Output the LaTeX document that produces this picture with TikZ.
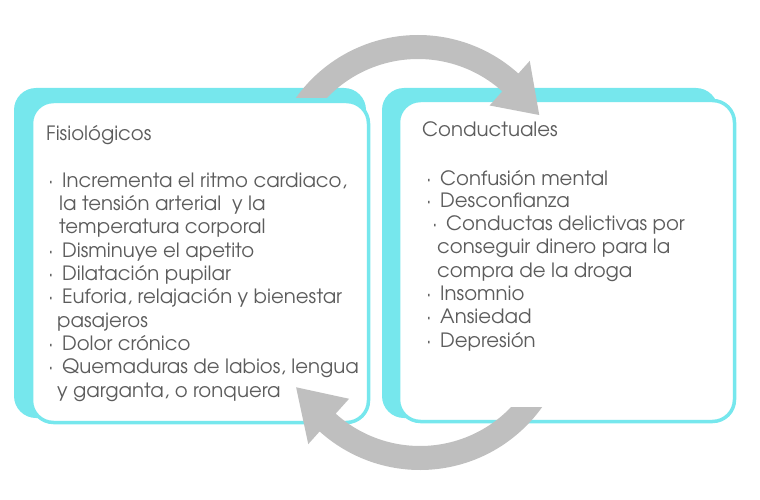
\documentclass[tikz,border=0pt]{standalone}
\usepackage{fontspec}
\setmainfont{texgyreadventor-regular.otf}
\usetikzlibrary{calc}
\definecolor{cyanb}{RGB}{118,231,237}
\definecolor{arrowgray}{RGB}{191,191,191}
\definecolor{txtgray}{RGB}{92,92,92}
\tikzset{
  backbox/.style={fill=cyanb, draw=none, rounded corners=22pt},
  frontbox/.style={fill=white, draw=cyanb, line width=3.5pt, rounded corners=22pt},
  cyclearrow/.style={fill=arrowgray, draw=none},
  txt/.style={anchor=base west, inner sep=0pt, text=txtgray, font=\fontsize{19.7}{23}\selectfont},
}
\newcommand{\bulletdot}{\llap{·\hspace{9pt}}}
\begin{document}
\begin{tikzpicture}[x=1pt,y=1pt]
\useasboundingbox (0,0) rectangle (760,-500);
% left box
\path[backbox] (14,-88) rectangle (366,-418);
\path[frontbox] (31.5,-101.5) rectangle (368.5,-422.5);
% right box
\path[backbox] (382,-88) rectangle (718,-418);
\path[frontbox] (398.5,-100.5) rectangle (734.5,-421.5);
% left texts
\node[txt] (l0) at (46,-140) {Fisiológicos};
\node[txt] (l1) at (62,-187) {\bulletdot Incrementa el ritmo cardiaco,};
\node[txt] (l2) at (59,-210) {la tensión arterial\ \ y la};
\node[txt] (l3) at (59,-233.5) {temperatura corporal};
\node[txt] (l4) at (62,-257) {\bulletdot Disminuye el apetito};
\node[txt] (l5) at (62,-280) {\bulletdot Dilatación pupilar};
\node[txt] (l6) at (62,-303) {\bulletdot Euforia, relajación y bienestar};
\node[txt] (l7) at (57,-327) {pasajeros};
\node[txt] (l8) at (62,-350) {\bulletdot Dolor crónico};
\node[txt] (l9) at (62,-373) {\bulletdot Quemaduras de labios, lengua};
\node[txt] (l10) at (57,-397) {y garganta, o ronquera};
% right texts
\node[txt] (r0) at (422,-137) {Conductuales};
\node[txt] (r1) at (440,-185) {\bulletdot Confusión mental};
\node[txt] (r2) at (440,-207) {\bulletdot Desconfianza};
\node[txt] (r3) at (446,-230) {\bulletdot Conductas delictivas por};
\node[txt] (r4) at (437,-253) {conseguir dinero para la};
\node[txt] (r5) at (437,-277) {compra de la droga};
\node[txt] (r6) at (440,-300) {\bulletdot Insomnio};
\node[txt] (r7) at (440,-323) {\bulletdot Ansiedad};
\node[txt] (r8) at (440,-347) {\bulletdot Depresión};
% top cycle arrow
\coordinate (c1) at (418,-185);
\begin{scope}
\clip (0,0) rectangle (760,-98) (418,0) rectangle (760,-500);
\path[cyclearrow] ($(c1)+(150:150)$) arc (150:48:150)
  -- ($(c1)+(48:167)$) -- ($(c1)+(30:140)$) -- ($(c1)+(48:107)$)
  -- ($(c1)+(48:126)$) arc (48:150:126) -- cycle;
\end{scope}
% bottom cycle arrow
\coordinate (c2) at (420,-320);
\begin{scope}
\clip (0,-407) rectangle (760,-500) (0,0) rectangle (420,-500);
\path[cyclearrow] ($(c2)+(-20:150)$) arc (-20:-132:150)
  -- ($(c2)+(-132:167)$) -- ($(c2)+(-151.5:141)$) -- ($(c2)+(-132:106)$)
  -- ($(c2)+(-132:126)$) arc (-132:-20:126) -- cycle;
\end{scope}
\end{tikzpicture}
\end{document}
